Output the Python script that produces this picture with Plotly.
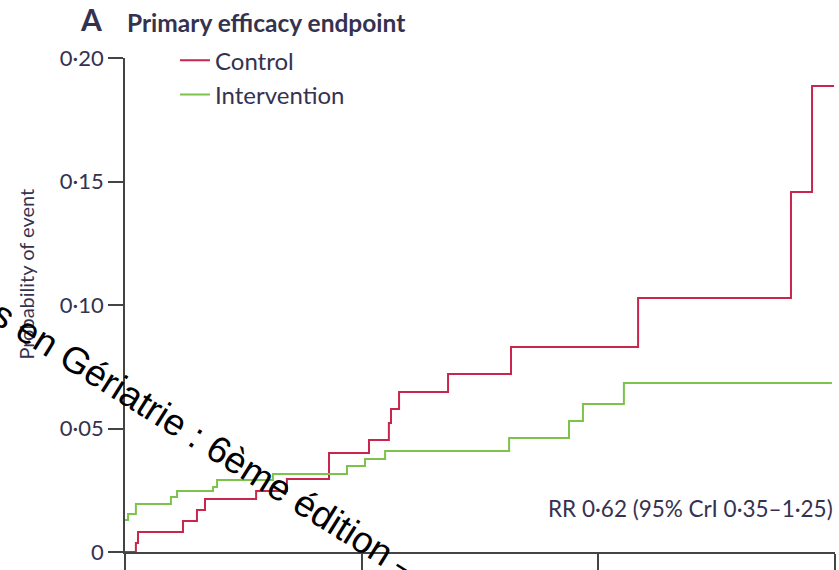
import plotly.graph_objects as go

# Time axis (units: tick spacing = 1), step curves
control_t = [0.0, 0.046, 0.055, 0.245, 0.304, 0.338, 0.554, 0.684, 0.862, 1.031,
             1.115, 1.124, 1.158, 1.365, 1.631, 2.168, 2.814, 2.903, 2.996]
control_p = [0.0, 0.0036, 0.0081, 0.0126, 0.0170, 0.0215, 0.0247, 0.0296, 0.0401, 0.0453,
             0.0522, 0.0579, 0.0648, 0.0721, 0.0830, 0.1028, 0.1457, 0.1887, 0.1887]

interv_t = [0.0, 0.013, 0.046, 0.194, 0.220, 0.372, 0.389, 0.625, 0.938, 1.014,
            1.099, 1.623, 1.876, 1.935, 2.108, 2.987]
interv_p = [0.0130, 0.0154, 0.0194, 0.0223, 0.0247, 0.0263, 0.0291, 0.0316, 0.0348, 0.0377,
            0.0409, 0.0462, 0.0530, 0.0599, 0.0684, 0.0684]

y_ticks = [0, 0.05, 0.10, 0.15, 0.20]
y_labels = ["0", "0·05", "0·10", "0·15", "0·20"]
x_ticks = [0, 1, 2, 3]

RED = "#c8264c"
GREEN = "#7dc24b"
TXT = "#35324f"
FONT = "Lato"

fig = go.Figure()
fig.add_trace(go.Scatter(x=control_t, y=control_p, mode="lines", name="Control",
                         line=dict(color=RED, width=2, shape="hv"), cliponaxis=False))
fig.add_trace(go.Scatter(x=interv_t, y=interv_p, mode="lines", name="Intervention",
                         line=dict(color=GREEN, width=2, shape="hv"), cliponaxis=False))

fig.update_layout(
    width=839, height=570,
    margin=dict(l=125, r=4, t=58, b=18),
    paper_bgcolor="white", plot_bgcolor="white",
    font=dict(family=FONT, color=TXT, size=20),
    showlegend=True,
    legend=dict(x=0.0704, y=1.04, xanchor="left", yanchor="top",
                bgcolor="rgba(0,0,0,0)", font=dict(size=24, color=TXT),
                tracegroupgap=0, itemwidth=30),
    xaxis=dict(range=[0, 3], tickvals=x_ticks, showticklabels=False, automargin=False,
               ticks="outside", ticklen=20, tickwidth=1.5, tickcolor="#444",
               showline=True, linecolor="#444", linewidth=1.5,
               showgrid=False, zeroline=False),
    yaxis=dict(range=[0, 0.2], tickvals=y_ticks, ticktext=y_labels, automargin=False,
               ticks="outside", ticklen=15, tickwidth=1.5, tickcolor="#444",
               showline=True, linecolor="#444", linewidth=1.5,
               showgrid=False, zeroline=False, tickfont=dict(size=22, color=TXT)),
)

# y-axis title (placed higher than the axis centre, as in the reference)
fig.add_annotation(text="Probability of event", xref="paper", yref="paper",
                   x=-0.14, y=(552 - 274) / 494, xanchor="center", yanchor="middle",
                   textangle=-90, showarrow=False,
                   font=dict(size=20, color=TXT, family=FONT))

fig.add_annotation(text="<b>A</b>", xref="paper", yref="paper", x=-0.048, y=1.0,
                   xanchor="center", yanchor="middle", yshift=39, showarrow=False,
                   font=dict(size=30, color=TXT, family=FONT))
fig.add_annotation(text="<b>Primary efficacy endpoint</b>", xref="paper", yref="paper",
                   x=0.0, y=1.0, xanchor="left", yanchor="middle", yshift=36, showarrow=False,
                   font=dict(size=24.5, color=TXT, family=FONT))
fig.add_annotation(text="RR 0·62 (95% CrI 0·35–1·25)", xref="paper", x=1.0, y=0.0175,
                   xanchor="right", yanchor="middle", showarrow=False,
                   font=dict(size=22.5, color=TXT, family=FONT))

# diagonal watermark
fig.add_annotation(text="s en Gériatrie : 6ème édition – ", x=0.36, y=0.0435,
                   xanchor="center", yanchor="middle", showarrow=False, textangle=32,
                   font=dict(size=37, color="black", family="Liberation Sans"))

fig.write_html("out.html")
